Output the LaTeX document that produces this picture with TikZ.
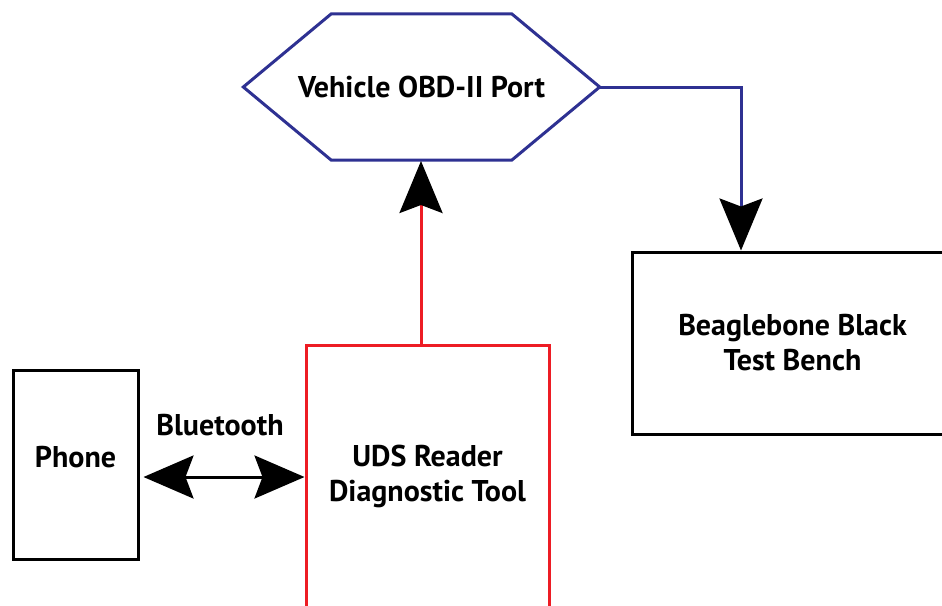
\documentclass[tikz,border=0pt]{standalone}
\usepackage{fontspec}
\setmainfont{PT Sans}
\usetikzlibrary{arrows.meta}
\definecolor{obdblue}{HTML}{2E3192}
\definecolor{udsred}{HTML}{ED1C24}
\tikzset{
  lbl/.style={font=\bfseries\fontsize{30}{35}\selectfont, align=center, text=black},
  box/.style={draw, line width=3pt, rectangle, inner sep=0pt, lbl},
  bigtip/.style={-{Stealth[length=52pt,width=43pt,inset=8pt,color=black]}},
}
\begin{document}
\begin{tikzpicture}[x=1pt,y=-1pt]
\useasboundingbox (0,0) rectangle (942,605);
% hexagon
\node[lbl, minimum width=356pt, minimum height=146pt, inner sep=0pt] (obd) at (421.5,87) {Vehicle OBD-II Port};
\draw[obdblue, line width=3pt, line join=miter]
  (obd.west) -- ([xshift=88pt]obd.north west) -- ([xshift=-88pt]obd.north east)
  -- (obd.east) -- ([xshift=-88pt]obd.south east) -- ([xshift=88pt]obd.south west) -- cycle;
% boxes
\node[box, minimum width=125pt, minimum height=189pt, text depth=16pt] (phone) at (75.5,464.5) {Phone};
\node[box, draw=udsred, minimum width=243pt, minimum height=263pt] (uds) at (427.5,476.5) {UDS Reader\\Diagnostic Tool};
\node[box, minimum width=321pt, minimum height=182pt] (bbb) at (792.5,343) {Beaglebone Black\\Test Bench};
% connectors
\coordinate (bend) at (741,87);
\draw[obdblue, line width=3pt, bigtip] (obd.east) -- (bend) -- (bend |- bbb.north);
\draw[udsred, line width=3pt, bigtip] (uds.north -| 421,0) -- (421,161);
\draw[line width=3pt, {Stealth[length=50pt,width=43pt,inset=8pt]}-{Stealth[length=50pt,width=43pt,inset=8pt]}] (phone.east |- 0,477) ++(4,0) coordinate (pa) -- (uds.west |- pa) ;
\node[lbl] (bt) at (220,425) {Bluetooth};
\end{tikzpicture}
\end{document}
